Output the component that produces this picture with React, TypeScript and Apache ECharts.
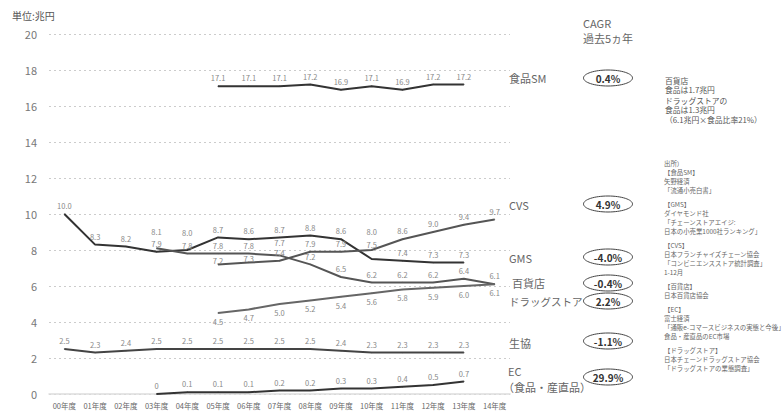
import React, { useEffect, useRef } from "react";
import * as echarts from "echarts";

const years = ["00年度", "01年度", "02年度", "03年度", "04年度", "05年度", "06年度", "07年度", "08年度", "09年度", "10年度", "11年度", "12年度", "13年度", "14年度"];
const foodSM = [null, null, null, null, null, 17.1, 17.1, 17.1, 17.2, 16.9, 17.1, 16.9, 17.2, 17.2, null];
const gms = [10.0, 8.3, 8.2, 7.9, 8.0, 8.7, 8.6, 8.7, 8.8, 8.6, 7.5, 7.4, 7.3, 7.3, null];
const cvs = [null, null, null, null, null, 7.2, 7.3, 7.4, 7.9, 7.9, 8.0, 8.6, 9.0, 9.4, 9.7];
const dept = [null, null, null, 8.1, 7.8, 7.8, 7.8, 7.7, 7.2, 6.5, 6.2, 6.2, 6.2, 6.4, 6.1];
const drug = [null, null, null, null, null, 4.5, 4.7, 5.0, 5.2, 5.4, 5.6, 5.8, 5.9, 6.0, 6.1];
const coop = [2.5, 2.3, 2.4, 2.5, 2.5, 2.5, 2.5, 2.5, 2.5, 2.4, 2.3, 2.3, 2.3, 2.3, null];
const ec = [null, null, null, 0, 0.1, 0.1, 0.1, 0.2, 0.2, 0.3, 0.3, 0.4, 0.5, 0.7, null];

const rightLabels = ["食品SM", "CVS", "GMS", "百貨店", "ドラッグストア", "生協", "EC"];
const cagrLabels = ["0.4%", "4.9%", "-4.0%", "-0.4%", "2.2%", "-1.1%", "29.9%"];
const noteLines = ["百貨店", "食品は1.7兆円", "", "ドラッグストアの", "食品は1.3兆円", "（6.1兆円×食品比率21%）"];
const sourceLines = [
  "出所）", "【食品SM】", "矢野経済", "「流通小売白書」", "",
  "【GMS】", "ダイヤモンド社", "「チェーンストアエイジ:", "日本の小売業1000社ランキング」", "",
  "【CVS】", "日本フランチャイズチェーン協会", "「コンビニエンスストア統計調査」", "1-12月", "",
  "【百貨店】", "日本百貨店協会", "",
  "【EC】", "富士経済", "「通販e-コマースビジネスの実態と今後」", "食品・産直品のEC市場", "",
  "【ドラッグストア】", "日本チェーンドラッグストア協会", "「ドラッグストアの業態調査」",
];

const FONT = '"Noto Sans CJK JP", "Noto Sans", sans-serif';

export default function App() {
  const ref = useRef<HTMLDivElement>(null);
  useEffect(() => {
    document.body.style.margin = "0";
    const chart = echarts.init(ref.current!, null, { renderer: "svg" });
    const fmt = (p: any) => (p.value === 0 ? "0" : Number(p.value).toFixed(1));
    const withDist = (data: any[], dist: Record<number, number>) =>
      data.map((v, i) => (v == null ? null : dist[i] != null ? { value: v, label: { distance: dist[i] } } : v));
    const mk = (name: string, data: any[], color: string, pos: string = "top", dist: Record<number, number> = {}) => ({
      name,
      type: "line",
      data: withDist(data, dist),
      symbol: "circle",
      symbolSize: 1,
      itemStyle: { color },
      lineStyle: { color, width: 2 },
      label: { show: true, position: pos, distance: 4, formatter: fmt, fontSize: 7.5, color: "#888", fontFamily: FONT },
    });

    const ellY = [78, 204, 257, 283, 301, 341, 377];
    const nameY = [78, 205, 258, 283, 301, 343, 371];
    const graphics: any[] = [];
    const txt = (text: string, x: number, y: number, size: number, fill: string, extra: any = {}) => ({
      type: "text", x, y, style: { text, fill, font: `${size}px ${FONT}`, verticalAlign: "middle", ...extra },
    });
    graphics.push(txt("単位:兆円", 12, 15, 10, "#555"));
    graphics.push(txt("CAGR", 583, 23, 11, "#666"));
    graphics.push(txt("過去5ヵ年", 583, 38, 11, "#666"));
    rightLabels.forEach((n, i) => {
      if (n === "EC") {
        graphics.push(txt("EC", 508, 371, 11, "#666"));
        graphics.push(txt("（食品・産直品）", 503, 387, 11, "#666"));
      } else {
        graphics.push(txt(n, n === "百貨店" ? 512 : 509, nameY[i], n === "ドラッグストア" ? 10.5 : 11, "#666"));
      }
      graphics.push({ type: "ellipse", shape: { cx: 608, cy: ellY[i], rx: 24.5, ry: 8 }, style: { fill: "#fff", stroke: "#444", lineWidth: 1 } });
      graphics.push({ type: "text", x: 608, y: ellY[i], style: { text: cagrLabels[i], fill: "#333", font: `bold 10px ${FONT}`, align: "center", verticalAlign: "middle" } });
    });
    let ny = 80;
    noteLines.forEach((t) => {
      if (t) graphics.push(txt(t, 665, ny, 7.8, "#555"));
      ny += t ? 9.5 : 1;
    });
    let sy = 163;
    sourceLines.forEach((t) => {
      if (t) graphics.push(txt(t, 664, sy, 6.4, "#666"));
      sy += t ? 9 : 5;
    });

    chart.setOption({
      animation: false,
      backgroundColor: "#fff",
      textStyle: { fontFamily: FONT },
      grid: { left: 49, right: 274, top: 34, bottom: 21 },
      xAxis: {
        type: "category",
        data: years,
        boundaryGap: true,
        axisLine: { show: true, lineStyle: { color: "#ddd", width: 1.5 } },
        axisTick: { show: false },
        axisLabel: { fontSize: 7.5, color: "#666", margin: 8, interval: 0, fontFamily: FONT },
      },
      yAxis: {
        type: "value",
        min: 0,
        max: 20,
        interval: 2,
        axisLine: { show: false },
        axisTick: { show: false },
        axisLabel: { fontSize: 11, color: "#777", margin: 12, fontFamily: FONT },
        splitLine: { show: true, lineStyle: { color: "#ccc", type: [2, 3], width: 1 } },
      },
      series: [
        mk("食品SM", foodSM, "#333"),
        mk("GMS", gms, "#333", "top", { 4: 13, 10: 10 }),
        mk("CVS", cvs, "#555", "top", { 5: 0, 6: 0, 10: 14 }),
        mk("百貨店", dept, "#555", "top", { 3: 12, 7: 9 }),
        mk("ドラッグストア", drug, "#666", "bottom"),
        mk("生協", coop, "#444"),
        mk("EC", ec, "#333"),
      ],
      graphic: graphics,
    });
    return () => chart.dispose();
  }, []);
  return <div ref={ref} style={{ width: 784, height: 415 }} />;
}
